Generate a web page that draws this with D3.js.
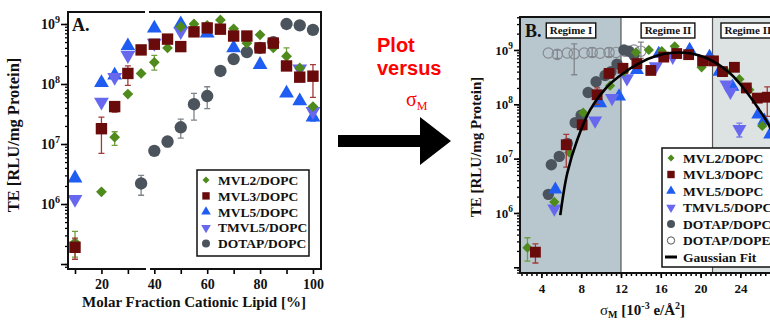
<!DOCTYPE html>
<html>
<meta charset="utf-8">
<title>TE vs cationic lipid fraction and sigma_M</title>
<style>
  body { margin: 0; background: #fff; }
  text { font-family: "Liberation Serif", "Times New Roman", serif; font-weight: bold; fill: #111; }
</style>
<body>
<div id="chart"></div>
<script src="https://cdn.jsdelivr.net/npm/d3@7"></script>
<script>
// ---- panel A: [mol % cationic lipid, TE, err low, err high]
var mvl2A = [[10,2.3e5,1.3e5,3.5e5],[20,1.6e6],[25,1.3e7,9.5e6,1.6e7],[30,6.8e7],[35,1.5e8],[40,2.3e8,1.7e8,3e8],[45,4e8],[50,9e8],[55,1e9],[60,9.5e8],[65,1.17e9],[70,8.3e8],[75,4.8e8],[80,6.6e8],[85,4e8],[90,2.9e8,2.3e8,4e8],[95,1.85e8],[100,4.2e7]];
var mvl3A = [[10,1.9e5,1.2e5,2.7e5],[20,1.8e7,7e6,2.8e7],[25,4.2e7,3.4e7,4.8e7],[30,1.5e8,9.5e7,2e8],[35,3.7e8],[40,4.6e8],[45,5.6e8],[50,4.2e8],[55,7.4e8],[60,8.6e8],[65,8.2e8],[70,6.3e8],[75,6.3e8],[80,4e8],[85,4.8e8],[90,2e8],[95,1.3e8],[100,1.35e8,6e7,2.1e8]];
var mvl5A = [[10,2.7e6],[20,1.05e8],[25,1.4e8],[30,4.3e8],[40,8.5e8],[50,1e9],[60,7e8],[70,4e8],[80,2.1e8],[90,7e7],[95,5.2e7],[100,2.8e7,2.4e7,3.2e7]];
var tmvl5A = [[10,1.2e6],[20,5e7],[25,1.3e8],[30,3e8],[40,4.8e8],[50,7.5e8],[95,1.8e8],[100,3.5e7]];
var dotapA = [[35,2.2e6,1.4e6,3e6],[40,7.7e6],[45,1.1e7,9e6,1.3e7],[50,1.9e7,1.25e7,2.6e7],[55,4.6e7,2.5e7,7e7],[60,6.3e7,3.9e7,9e7],[65,1.65e8],[70,2.6e8],[75,3.4e8],[80,4e8],[85,5e8],[90,1e9],[95,9.5e8],[100,8e8]];

// ---- panel B: [sigma_M, TE, err low, err high]
var mvl2B = [[2.6,2.3e5,1.3e5,3.5e5],[5.3,1.6e6],[6.8,1.3e7],[8.2,7e7],[9.5,1.5e8],[10.9,2.2e8],[12.3,4e8],[13.5,9e8],[14.8,1e9],[16.1,9.5e8],[17.4,1.17e9],[18.8,8.3e8],[20.1,4.8e8],[21.3,6.6e8],[22.6,4e8],[23.9,2.9e8],[24.9,1.85e8],[26.2,4e7]];
var mvl3B = [[3.4,1.9e5,1.2e5,2.7e5],[6.5,1.8e7,7e6,2.8e7],[8.1,4.2e7,3.4e7,5e7],[9.6,1.5e8,1e8,2e8],[10.8,3.7e8],[12.2,4.6e8],[13.6,5.6e8],[15.0,4.2e8],[16.3,7.4e8],[17.6,8.6e8],[18.8,8.2e8],[20.2,6.3e8],[21.3,6.3e8],[22.2,4e8],[23.4,4.8e8],[24.6,2e8],[25.7,1.3e8],[26.7,1.35e8,6e7,2.1e8]];
var mvl5B = [[5.4,2.7e6],[9.9,1.05e8],[11.8,1.4e8],[13.6,4.3e8],[15.8,8.5e8],[18.9,1e9],[20.9,7.5e8],[21.9,4e8],[23.2,2.1e8],[25.8,6.5e7],[26.4,5e7],[27.0,2.8e7]];
var tmvl5B = [[5.3,1.2e6],[9.4,5e7],[11.1,1.3e8],[12.6,3e8],[15.5,5e8],[17.2,7.5e8],[22.6,2.3e8],[23.0,1.7e8],[23.9,3.5e7,2.5e7,4.5e7]];
var dotapB = [[4.7,2.2e6],[5.0,7.7e6],[5.8,1.1e7],[6.6,1.9e7],[7.4,4.6e7],[8.0,6.3e7],[8.7,1.65e8],[9.5,2.6e8],[10.4,3.4e8],[11.0,4e8],[11.6,5.5e8],[12.3,1e9],[12.8,9.5e8],[13.3,8e8]];
var dopeB = [[4.7,8.8e8],[5.6,8.3e8,7e8,1e9],[6.6,8.8e8],[7.3,8.5e8,3.5e8,1.3e9],[8.3,8.8e8],[9.1,9e8,7.5e8,1.1e9],[9.9,8.7e8],[10.8,9e8,7.5e8,1.1e9],[11.5,9e8],[12.4,9.5e8],[13.3,1e9],[14.0,9.5e8,7e8,1.4e9]];
var gaussFit = [[5.9,9.1e5],[6.6,5.4e6],[7.6,2.2e7],[8.9,7.9e7],[10.6,2.1e8],[12.2,3.7e8],[13.9,5.8e8],[15.6,7.8e8],[17.2,8.9e8],[18.9,8.7e8],[20.6,7.1e8],[22.9,3.8e8],[24.6,1.7e8],[25.9,7.9e7],[26.7,4.7e7],[27.4,2.6e7]];

var legendA = ["MVL2/DOPC","MVL3/DOPC","MVL5/DOPC","TMVL5/DOPC","DOTAP/DOPC"];
var legendB = ["MVL2/DOPC","MVL3/DOPC","MVL5/DOPC","TMVL5/DOPC","DOTAP/DOPC","DOTAP/DOPE","Gaussian Fit"];
var xTicksA = [10,20,30,40,50,60,70,80,90,100];
var xLabelsA = [20,40,60,80,100];
var xTicksB = [4,8,12,16,20,24];
var decades = [6,7,8,9];
var regimeEdges = [12, 21.2];
var regimeNames = ["Regime I","Regime II","Regime III"];

// marker styles
var sty = {
  mvl2:  {sym: d3.symbolSquare, size: 58, rot: 45, fill: "#4f8a1c", err: "#6f9f3c"},
  mvl3:  {sym: d3.symbolSquare, size: 130, rot: 0, fill: "#6a0b0b", err: "#a33a3a"},
  mvl5:  {sym: d3.symbolTriangle, size: 95, rot: 0, fill: "#1f5df2", err: "#4a7af0"},
  tmvl5: {sym: d3.symbolTriangle, size: 95, rot: 180, fill: "#6768ee", err: "#7b7cec"},
  dotap: {sym: d3.symbolCircle, size: 120, rot: 0, fill: "#4b545c", err: "#7d858c"},
  dope:  {sym: d3.symbolCircle, size: 100, rot: 0, fill: "#868b90", err: "#80868b", open: true}
};
var legStyles = [sty.mvl2, sty.mvl3, sty.mvl5, sty.tmvl5, sty.dotap, sty.dope];

var svg = d3.select("#chart").append("svg").attr("width", 770).attr("height", 320);

function logTicks(lo, hi) {
  var t = [];
  for (var d = 4; d <= 9; d++) for (var k = 1; k <= 9; k++) {
    var v = k * Math.pow(10, d);
    if (v >= lo && v <= hi) t.push(v);
  }
  return t;
}
function isDecade(v) { return Math.abs(Math.log10(v) - Math.round(Math.log10(v))) < 1e-9; }

function drawSeries(g, data, x, y, st, scale) {
  scale = scale || 1;
  g.selectAll(null).data(data.filter(function (d) { return d.length > 2; })).enter()
    .append("path")
    .attr("d", function (d) {
      var px = x(d[0]);
      return "M" + px + "," + y(d[2]) + "V" + y(d[3]) +
        "M" + (px - 3) + "," + y(d[2]) + "h6M" + (px - 3) + "," + y(d[3]) + "h6";
    })
    .attr("stroke", st.err).attr("stroke-width", 1.3).attr("fill", "none");
  g.selectAll(null).data(data).enter().append("path")
    .attr("d", d3.symbol(st.sym, st.size * scale))
    .attr("transform", function (d) { return "translate(" + x(d[0]) + "," + y(d[1]) + ") rotate(" + st.rot + ")"; })
    .attr("fill", st.open ? "none" : st.fill)
    .attr("stroke", st.open ? st.fill : "none")
    .attr("stroke-width", 1.2);
}

function decadeLabels(g, y, xr, fs) {
  decades.forEach(function (d) {
    var t = g.append("text").attr("x", xr).attr("y", y(Math.pow(10, d)) + fs * 0.35)
      .attr("text-anchor", "end").style("font-size", fs + "px");
    t.append("tspan").text("10");
    t.append("tspan").attr("dy", -fs * 0.45).style("font-size", (fs * 0.72) + "px").text(d);
  });
}

function legend(g, names, styles, x0, y0, dy, fs) {
  names.forEach(function (n, i) {
    var yy = y0 + i * dy;
    var st = styles[i];
    if (st) {
      g.append("path").attr("d", d3.symbol(st.sym, st.size * 0.42))
        .attr("transform", "translate(" + x0 + "," + yy + ") rotate(" + st.rot + ")")
        .attr("fill", st.open ? "#fff" : st.fill).attr("stroke", st.open ? "#555" : "none");
    } else {
      g.append("line").attr("x1", x0 - 6).attr("x2", x0 + 6).attr("y1", yy).attr("y2", yy)
        .attr("stroke", "#000").attr("stroke-width", 3);
    }
    g.append("text").attr("x", x0 + 12).attr("y", yy + fs * 0.35).style("font-size", fs + "px").text(n);
  });
}

// ================= panel A =================
var xA = d3.scaleLinear().domain([7.35, 103.04]).range([68, 321]);
var yA = d3.scaleLog().domain([Math.pow(10, 4.917), Math.pow(10, 9.2)]).range([269, 12]);
var gA = svg.append("g");

var ticksA = logTicks(yA.domain()[0], yA.domain()[1]);
gA.append("g").attr("transform", "translate(68,0)")
  .call(d3.axisLeft(yA).tickValues(ticksA).tickSize(3).tickFormat(""))
  .call(function (s) { s.select(".domain").remove(); s.selectAll("line").attr("stroke-width", 1.3); });
gA.append("g").attr("transform", "translate(68,0)")
  .call(d3.axisLeft(yA).tickValues(ticksA.filter(isDecade)).tickSize(7).tickFormat(""))
  .call(function (s) { s.select(".domain").remove(); s.selectAll("line").attr("stroke-width", 1.6); });
decadeLabels(gA, yA, 60, 14);

gA.append("g").attr("transform", "translate(0,269)")
  .call(d3.axisBottom(xA).tickValues(xTicksA).tickSize(5).tickPadding(5)
    .tickFormat(function (d) { return xLabelsA.indexOf(d) >= 0 ? d : ""; }))
  .call(function (s) {
    s.select(".domain").remove();
    s.selectAll("line").attr("stroke-width", 1.6);
    s.selectAll("text").style("font-size", "14px").style("font-family", "Liberation Serif").style("font-weight", "bold").attr("fill", "#111");
  });

drawSeries(gA, dotapA, xA, yA, sty.dotap);
drawSeries(gA, mvl5A, xA, yA, sty.mvl5);
drawSeries(gA, tmvl5A, xA, yA, sty.tmvl5);
drawSeries(gA, mvl2A, xA, yA, sty.mvl2);
drawSeries(gA, mvl3A, xA, yA, sty.mvl3);

gA.append("rect").attr("x", 68).attr("y", 12).attr("width", 253).attr("height", 257)
  .attr("fill", "none").attr("stroke", "#111").attr("stroke-width", 2);
// axis break
gA.append("rect").attr("x", 145).attr("y", 9).attr("width", 4).attr("height", 6).attr("fill", "#fff");
gA.append("rect").attr("x", 146).attr("y", 266).attr("width", 4).attr("height", 7).attr("fill", "#fff");

gA.append("text").attr("x", 72).attr("y", 31).style("font-size", "18px").text("A.");

var lgA = gA.append("g");
lgA.append("rect").attr("x", 197).attr("y", 170).attr("width", 112).attr("height", 86)
  .attr("fill", "#fff").attr("stroke", "#111").attr("stroke-width", 1.5);
legend(lgA, legendA, legStyles, 206, 180, 15.9, 13.5);

gA.append("text").attr("transform", "translate(19,135) rotate(-90)").attr("text-anchor", "middle")
  .style("font-size", "16.5px").text("TE [RLU/mg Protein]");
gA.append("text").attr("x", 194).attr("y", 307).attr("text-anchor", "middle")
  .style("font-size", "15px").text("Molar Fraction Cationic Lipid [%]");

// ================= arrow =================
svg.append("path").attr("d", "M338,135L420,135L420,117L451,141L420,165L420,147L338,147Z").attr("fill", "#000");
svg.append("text").attr("x", 377).attr("y", 52).style("font-family", "Liberation Sans, Arial, sans-serif")
  .style("font-size", "20px").style("fill", "#ff0000").text("Plot");
svg.append("text").attr("x", 377).attr("y", 75).style("font-family", "Liberation Sans, Arial, sans-serif")
  .style("font-size", "20px").style("fill", "#ff0000").text("versus");
var sig = svg.append("text").attr("x", 406).attr("y", 106).style("font-size", "20px").style("font-weight", "normal").style("fill", "#ff0000");
sig.append("tspan").text("σ");
sig.append("tspan").attr("dy", 4).style("font-size", "12px").text("M");

// ================= panel B =================
var xB = d3.scaleLinear().domain([1.85, 27.48]).range([520, 775]);
var yB = d3.scaleLog().domain([Math.pow(10, 4.895), Math.pow(10, 9.607)]).range([273, 17]);
var gB = svg.append("g");

svg.append("clipPath").attr("id", "clipB").append("rect").attr("x", 520).attr("y", 17).attr("width", 255).attr("height", 256);
var plotB = gB.append("g").attr("clip-path", "url(#clipB)");

plotB.append("rect").attr("x", xB(xB.domain()[0])).attr("y", 17).attr("width", xB(regimeEdges[0]) - 520).attr("height", 256).attr("fill", "#b8c6ce");
plotB.append("rect").attr("x", xB(regimeEdges[1])).attr("y", 17).attr("width", 775 - xB(regimeEdges[1])).attr("height", 256).attr("fill", "#dde3e3");
regimeEdges.forEach(function (e) {
  plotB.append("line").attr("x1", xB(e)).attr("x2", xB(e)).attr("y1", 17).attr("y2", 273).attr("stroke", "#555").attr("stroke-width", 1.2);
});

drawSeries(plotB, dopeB, xB, yB, sty.dope, 0.85);
drawSeries(plotB, dotapB, xB, yB, sty.dotap, 0.85);
drawSeries(plotB, mvl5B, xB, yB, sty.mvl5, 0.9);
drawSeries(plotB, tmvl5B, xB, yB, sty.tmvl5, 0.9);
drawSeries(plotB, mvl2B, xB, yB, sty.mvl2, 0.9);
drawSeries(plotB, mvl3B, xB, yB, sty.mvl3, 0.9);

plotB.append("path").datum(gaussFit)
  .attr("d", d3.line().x(function (d) { return xB(d[0]); }).y(function (d) { return yB(d[1]); }).curve(d3.curveCatmullRom))
  .attr("fill", "none").attr("stroke", "#000").attr("stroke-width", 2.6);

// regime labels
var regimeX = [571, 668, 750];
regimeNames.forEach(function (n, i) {
  var t = gB.append("text").attr("x", regimeX[i]).attr("y", 34).attr("text-anchor", "middle").style("font-size", "11px").text(n);
  var w = t.node().getComputedTextLength();
  gB.insert("rect", "text").attr("x", regimeX[i] - w / 2 - 3.5).attr("y", 23).attr("width", w + 7).attr("height", 15)
    .attr("fill", "#fff").attr("stroke", "#111").attr("stroke-width", 1.4);
});
gB.append("text").attr("x", 525).attr("y", 37).style("font-size", "18px").text("B.");

var ticksB = logTicks(yB.domain()[0], yB.domain()[1]);
gB.append("g").attr("transform", "translate(520,0)")
  .call(d3.axisLeft(yB).tickValues(ticksB).tickSize(3).tickFormat(""))
  .call(function (s) { s.select(".domain").remove(); s.selectAll("line").attr("stroke-width", 1.3); });
gB.append("g").attr("transform", "translate(520,0)")
  .call(d3.axisLeft(yB).tickValues(ticksB.filter(isDecade)).tickSize(6).tickFormat(""))
  .call(function (s) { s.select(".domain").remove(); s.selectAll("line").attr("stroke-width", 1.6); });
decadeLabels(gB, yB, 513, 13);

gB.append("g").attr("transform", "translate(0,273)")
  .call(d3.axisBottom(xB).tickValues(d3.range(2, 27.6, 0.5)).tickSize(3).tickFormat(""))
  .call(function (s) { s.select(".domain").remove(); s.selectAll("line").attr("stroke-width", 1.5); });
gB.append("g").attr("transform", "translate(0,273)")
  .call(d3.axisBottom(xB).tickValues(xTicksB).tickSize(5).tickPadding(6))
  .call(function (s) {
    s.select(".domain").remove();
    s.selectAll("line").attr("stroke-width", 1.6);
    s.selectAll("text").style("font-size", "13px").style("font-family", "Liberation Serif").style("font-weight", "bold").attr("fill", "#111");
  });

gB.append("rect").attr("x", 520).attr("y", 17).attr("width", 255).attr("height", 256)
  .attr("fill", "none").attr("stroke", "#111").attr("stroke-width", 2);

var lgB = gB.append("g");
lgB.append("rect").attr("x", 662).attr("y", 148).attr("width", 130).attr("height", 119)
  .attr("fill", "#fff").attr("stroke", "#111").attr("stroke-width", 1.5);
legend(lgB, legendB, legStyles, 671, 158, 16.5, 13.5);

gB.append("text").attr("transform", "translate(481,147) rotate(-90)").attr("text-anchor", "middle")
  .style("font-size", "15px").text("TE [RLU/mg Protein]");

var xt = gB.append("text").attr("x", 600).attr("y", 315).style("font-size", "15px");
xt.append("tspan").style("font-weight", "normal").text("σ");
xt.append("tspan").attr("dy", 3).style("font-size", "10px").text("M");
xt.append("tspan").attr("dy", -3).text(" [10");
xt.append("tspan").attr("dy", -6).style("font-size", "10px").text("-3");
xt.append("tspan").attr("dy", 6).text(" e/Å");
xt.append("tspan").attr("dy", -6).style("font-size", "10px").text("2");
xt.append("tspan").attr("dy", 6).text("]");
</script>
</body>
</html>
